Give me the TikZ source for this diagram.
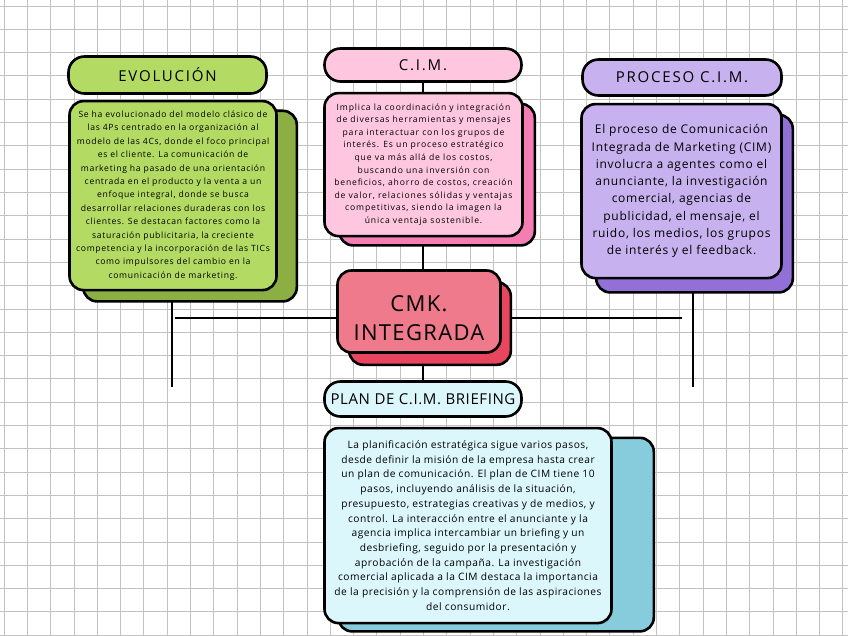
\documentclass[tikz,border=0pt]{standalone}
\usepackage{fontspec}
\setmainfont{Open Sans}
\usetikzlibrary{positioning}
\definecolor{evo1}{HTML}{B3DB63}
\definecolor{evo2}{HTML}{8BAF43}
\definecolor{cim1}{HTML}{FFC6DF}
\definecolor{cim2}{HTML}{F47DB4}
\definecolor{pro1}{HTML}{C8B1EF}
\definecolor{pro2}{HTML}{9370D8}
\definecolor{cmk1}{HTML}{EE7A8C}
\definecolor{cmk2}{HTML}{E8465F}
\definecolor{plan1}{HTML}{DCF7FC}
\definecolor{plan2}{HTML}{86CCDC}
\definecolor{gridc}{HTML}{C2C2C2}
\pgfdeclarelayer{paper}
\pgfdeclarelayer{under}
\pgfsetlayers{paper,under,main}

\begin{document}
\begin{tikzpicture}[
    x=1pt,y=-1pt,
    head/.style={draw=black,line width=2.6pt,rounded corners=16pt,inner sep=0pt,align=center,font=\fontsize{15}{17}\selectfont\addfontfeatures{LetterSpace=12}},
    card/.style={draw=black,line width=2.6pt,rounded corners=14pt,inner sep=0pt,align=center},
    back/.style={draw=black,line width=2.6pt,rounded corners=14pt,fill=#1},
    link/.style={line width=2.6pt,black}
]
\useasboundingbox (0,0) rectangle (848,636);
\begin{pgfonlayer}{paper}
\fill[white] (0,0) rectangle (848,636);
\foreach \i in {0,...,36}
    \draw[gridc,line width=0.8pt] (4+23.3*\i,0) -- (4+23.3*\i,636);
\foreach \i in {0,...,27}
    \draw[gridc,line width=0.8pt] (0,6+23.3*\i) -- (848,6+23.3*\i);
\end{pgfonlayer}

% centre
\node[card,fill=cmk1,minimum width=163pt,minimum height=82pt,font=\fontsize{22}{29}\selectfont\addfontfeatures{LetterSpace=6}] (CMK) at (419,311.5) {\rule{0pt}{30pt}CMK.\\INTEGRADA};

% evolucion
\node[head,fill=evo1,minimum width=198pt,minimum height=37pt] (EVOt) at (167.5,75) {EVOLUCIÓN};
\node[card,fill=evo1,minimum width=207pt,minimum height=189pt,font=\fontsize{8.6}{13.4}\selectfont\addfontfeatures{LetterSpace=8},below right=5pt and 1pt of EVOt.south west] (EVOb) {Se ha evolucionado del modelo clásico de\\las 4Ps centrado en la organización al\\modelo de las 4Cs, donde el foco principal\\es el cliente. La comunicación de\\marketing ha pasado de una orientación\\centrada en el producto y la venta a un\\enfoque integral, donde se busca\\desarrollar relaciones duraderas con los\\clientes. Se destacan factores como la\\saturación publicitaria, la creciente\\competencia y la incorporación de las TICs\\como impulsores del cambio en la\\comunicación de marketing.};

% cim
\node[head,fill=cim1,minimum width=197pt,minimum height=33pt] (CIMt) at (423,65) {C.I.M.};
\node[card,fill=cim1,minimum width=198pt,minimum height=143pt,font=\fontsize{8.6}{12.6}\selectfont\addfontfeatures{LetterSpace=10},below right=9pt and 0pt of CIMt.south west] (CIMb) {Implica la coordinación y integración\\de diversas herramientas y mensajes\\para interactuar con los grupos de\\interés. Es un proceso estratégico\\que va más allá de los costos,\\buscando una inversión con\\beneficios, ahorro de costos, creación\\de valor, relaciones sólidas y ventajas\\competitivas, siendo la imagen la\\única ventaja sostenible.};

% proceso
\node[head,fill=pro1,minimum width=199pt,minimum height=36pt] (PROt) at (682,77.5) {PROCESO C.I.M.};
\node[card,fill=pro1,minimum width=200pt,minimum height=174pt,font=\fontsize{12}{17.3}\selectfont\addfontfeatures{LetterSpace=6},below right=6pt and -1pt of PROt.south west] (PROb) {El proceso de Comunicación\\Integrada de Marketing (CIM)\\involucra a agentes como el\\anunciante, la investigación\\comercial, agencias de\\publicidad, el mensaje, el\\ruido, los medios, los grupos\\de interés y el feedback.};

% plan
\node[head,fill=plan1,minimum width=197pt,minimum height=35pt,font=\fontsize{15}{17}\selectfont\addfontfeatures{LetterSpace=4}] (PLANt) at (423,399) {PLAN DE C.I.M. BRIEFING};
\node[card,fill=plan1,minimum width=287pt,minimum height=195pt,font=\fontsize{10.2}{14.7}\selectfont\addfontfeatures{LetterSpace=5},below right=9pt and 0pt of PLANt.south west] (PLANb) {La planificación estratégica sigue varios pasos,\\desde definir la misión de la empresa hasta crear\\un plan de comunicación. El plan de CIM tiene 10\\pasos, incluyendo análisis de la situación,\\presupuesto, estrategias creativas y de medios, y\\control. La interacción entre el anunciante y la\\agencia implica intercambiar un briefing y un\\desbriefing, seguido por la presentación y\\aprobación de la campaña. La investigación\\comercial aplicada a la CIM destaca la importancia\\de la precisión y la comprensión de las aspiraciones\\del consumidor.};

\coordinate (hl) at (175,318);
\coordinate (hr) at (682,318);
\coordinate (lv) at (172,387);
\coordinate (rv) at (693,387);

\begin{pgfonlayer}{under}
\draw[link] (hl) -- (hr);
\draw[link] (CIMt) -- (PLANt);
\draw[link] (EVOb.center -| lv) -- (lv);
\draw[link] (PROb.center -| rv) -- (rv);
% shadows
\draw[back=evo2] ([shift={(15,11)}]EVOb.north west) rectangle ([shift={(19,10)}]EVOb.south east);
\draw[back=cim2] ([shift={(16,12)}]CIMb.north west) rectangle ([shift={(11,8)}]CIMb.south east);
\draw[back=pro2] ([shift={(16,12)}]PROb.north west) rectangle ([shift={(10,13)}]PROb.south east);
\draw[back=plan2] ([shift={(15,11)}]PLANb.north west) rectangle ([shift={(41,7)}]PLANb.south east);
\draw[back=cmk2] ([shift={(13,13)}]CMK.north west) rectangle ([shift={(9,11)}]CMK.south east);
\end{pgfonlayer}
\end{tikzpicture}
\end{document}
